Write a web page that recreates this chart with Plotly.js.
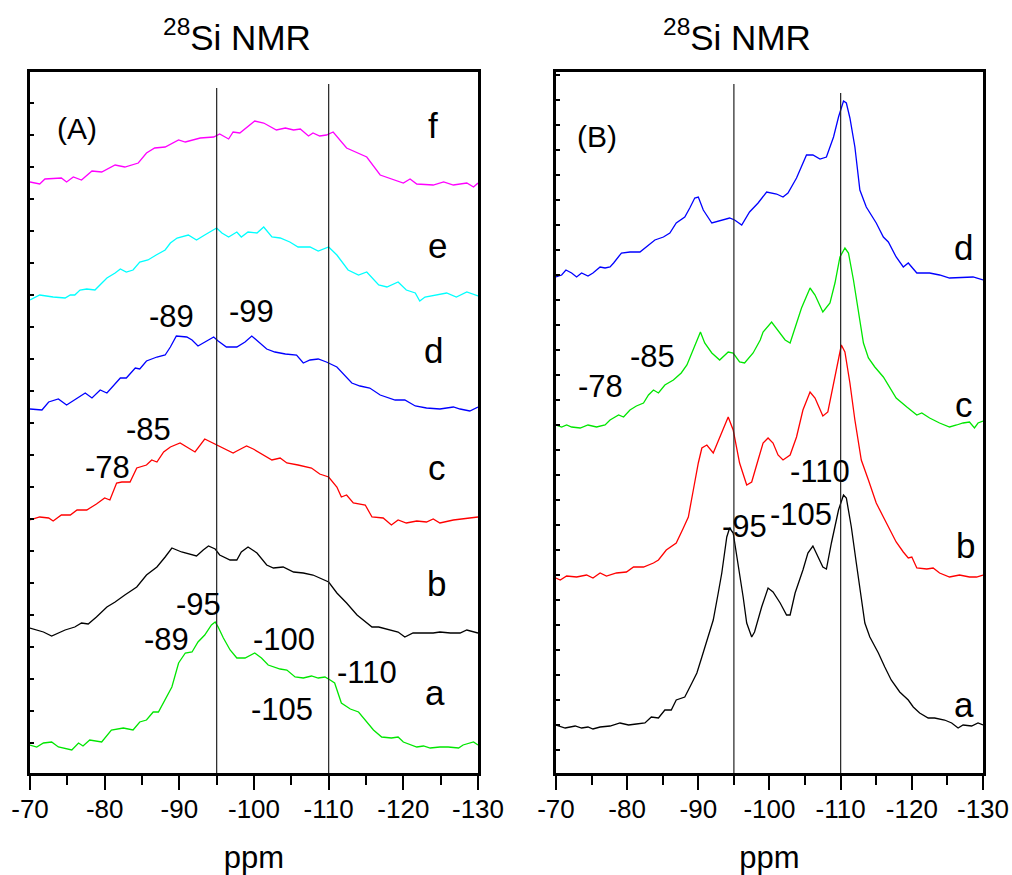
<!DOCTYPE html>
<html>
<head>
<meta charset="utf-8">
<script src="https://cdn.plot.ly/plotly-3.0.1.min.js"></script>
<style>
html,body{margin:0;padding:0;background:#fff;}
#chart{width:1012px;height:875px;}
</style>
</head>
<body>
<div id="chart"></div>
<script>
// ---------- tick labels ----------
const tickVals = [-70, -80, -90, -100, -110, -120, -130];
const tickLabels = ["-70", "-80", "-90", "-100", "-110", "-120", "-130"];
const minorTickVals = [-75, -85, -95, -105, -115, -125];
const refLinesPpm = [-95, -110];

// ---------- Panel A (stacked intensities, arbitrary units) ----------
const A_f_ppm = [-70,-71.3,-72.0,-74.2,-74.9,-75.8,-76.9,-78.3,-79.6,-81.4,-82.7,-84.5,-85.6,-86.7,-88.1,-89.9,-90.8,-92.8,-94.6,-95.4,-96.6,-97.2,-98.1,-100.1,-101.3,-103.0,-104.2,-105.3,-106.2,-107.3,-107.9,-108.8,-109.7,-110.6,-112.4,-113.3,-114.0,-115.1,-116.9,-118.7,-120.0,-120.9,-121.8,-124.0,-125.4,-126.7,-128.5,-129.4,-130];
const A_f_int = [591,589,594,595,591,596,593,602,601,608,606,610,620,625,626,633,631,635,636,639,634,641,640,652,650,643,645,643,644,637,640,637,638,641,625,622,620,616,598,593,590,594,589,588,591,588,590,586,590];

const A_e_ppm = [-70,-71.3,-73.1,-74.7,-75.4,-76.0,-76.7,-77.6,-78.7,-80.3,-81.4,-82.1,-82.9,-83.8,-84.7,-85.8,-86.9,-88.1,-88.8,-89.7,-91.2,-92.3,-93.4,-95.0,-95.7,-96.6,-97.7,-98.3,-99.2,-100.4,-101.3,-102.4,-103.5,-104.8,-105.9,-107.5,-108.6,-110.0,-111.1,-112.6,-114.0,-115.1,-116.7,-117.8,-119.3,-120.4,-121.6,-122.2,-122.9,-124.5,-125.8,-127.1,-128.5,-130];
const A_e_int = [473,478,476,475,478,478,483,484,483,495,500,504,501,503,511,513,518,523,530,535,538,533,538,545,540,536,541,536,541,540,546,536,535,531,526,526,522,526,518,503,498,501,488,486,491,483,480,472,476,478,480,476,481,477];

const A_d_ppm = [-70,-71.6,-72.5,-73.8,-74.9,-76.3,-77.4,-78.3,-79.4,-80.3,-81.2,-82.1,-82.9,-84.1,-84.7,-85.6,-87.0,-88.1,-88.8,-89.6,-91.0,-91.7,-92.5,-93.4,-94.6,-95.2,-96.3,-97.7,-98.8,-99.7,-100.6,-101.7,-102.8,-104.2,-105.7,-106.6,-107.5,-108.6,-109.7,-111.1,-113.1,-114.2,-115.5,-116.9,-118.9,-120.2,-121.6,-123.1,-124.9,-126.7,-127.6,-128.9,-130];
const A_d_int = [364,363,371,374,368,375,380,375,383,380,388,395,395,405,404,412,416,418,426,437,436,433,427,431,436,432,426,426,431,437,431,424,421,419,418,410,413,414,411,406,390,387,385,378,373,373,367,365,364,366,364,362,366];

const A_c_ppm = [-70,-71.3,-72.5,-73.1,-74.2,-75.4,-76.3,-77.6,-78.9,-80.0,-80.7,-81.6,-82.3,-83.4,-84.3,-85.6,-86.3,-87.0,-87.9,-88.8,-90.1,-91.0,-92.1,-93.4,-95.0,-96.3,-97.2,-97.7,-99.0,-99.9,-101.3,-102.4,-103.5,-104.4,-105.9,-107.7,-108.8,-110.0,-111.1,-111.7,-112.4,-113.3,-114.9,-115.8,-117.3,-118.4,-119.3,-120.4,-121.8,-123.1,-124.0,-124.9,-126.7,-128.0,-130];
const A_c_int = [253,256,255,252,258,258,263,263,269,275,273,290,291,291,305,308,313,311,321,326,330,326,321,334,328,323,320,322,327,324,318,313,315,310,308,305,299,296,286,276,278,270,268,256,255,248,253,250,252,251,254,250,253,254,256];

const A_b_ppm = [-70,-70.9,-71.8,-72.9,-73.8,-74.7,-76.0,-76.9,-77.8,-78.9,-80.3,-81.4,-82.7,-83.8,-84.3,-85.6,-87.0,-88.1,-89.0,-90.3,-91.7,-92.3,-93.2,-93.9,-94.8,-95.4,-96.8,-97.7,-98.3,-99.2,-100.4,-101.7,-102.6,-103.9,-105.3,-106.6,-107.9,-108.8,-110.0,-111.1,-112.4,-113.8,-115.1,-115.8,-116.7,-117.3,-118.4,-119.3,-120.2,-121.3,-122.7,-124.0,-124.9,-126.3,-127.6,-128.5,-130];
const A_b_int = [145,143,141,137,140,143,146,150,149,156,166,171,178,183,186,198,206,216,225,221,218,217,223,227,224,218,213,213,221,226,220,208,205,206,201,200,198,195,191,180,170,158,150,146,146,145,143,141,136,140,140,140,141,140,140,143,140];

const A_a_ppm = [-70,-70.9,-71.8,-72.9,-73.8,-75.6,-76.5,-77.1,-78.0,-78.9,-79.6,-80.9,-82.5,-83.8,-84.7,-85.6,-86.5,-87.2,-88.1,-89.0,-89.9,-90.8,-91.7,-92.5,-93.4,-94.3,-94.8,-95.2,-95.9,-96.8,-97.7,-98.8,-100.1,-101.0,-101.9,-103.5,-104.4,-105.5,-106.6,-107.7,-108.6,-109.5,-110.2,-110.8,-111.7,-112.9,-114.0,-114.9,-116.0,-117.1,-118.4,-119.3,-120.0,-121.8,-122.7,-123.6,-124.9,-126.0,-127.4,-128.0,-129.4,-130];
const A_a_int = [28,26,30,31,26,23,30,27,33,32,31,43,45,43,51,53,61,61,73,86,110,120,121,131,138,148,151,146,135,123,115,115,120,115,108,104,103,96,95,97,95,96,93,90,70,64,61,53,43,36,35,36,31,26,27,25,26,26,25,28,31,28];

// ---------- Panel B ----------
const B_d_ppm = [-70,-70.8,-71.4,-72.2,-72.9,-73.6,-74.5,-75.2,-76.2,-76.9,-77.6,-78.1,-79.2,-80.4,-81.8,-82.5,-83.9,-85.1,-86.0,-86.9,-88.1,-88.8,-89.5,-90.0,-90.7,-91.9,-93.3,-94.4,-95.1,-96.1,-97.2,-98.4,-99.6,-101.0,-101.9,-102.6,-103.8,-105.2,-106.1,-107.1,-108.0,-109.0,-109.7,-110.4,-110.8,-111.3,-112.0,-112.7,-113.6,-115.0,-116.0,-116.7,-117.8,-118.8,-119.5,-120.7,-122.5,-123.9,-125.3,-127.2,-128.6,-130];
const B_d_int = [496,498,503,500,496,500,497,500,506,505,506,510,520,521,521,525,533,536,540,550,556,565,575,576,563,550,553,555,553,548,561,570,581,579,576,580,595,618,618,614,616,636,656,672,670,655,626,583,566,550,536,531,516,506,510,500,500,498,495,496,496,493];

const B_c_ppm = [-70,-70.8,-71.5,-72.2,-73.4,-74.5,-75.7,-76.9,-77.6,-78.8,-79.5,-80.4,-81.3,-82.3,-83.0,-83.7,-84.4,-85.3,-86.5,-87.6,-88.4,-89.1,-89.8,-90.3,-90.9,-91.9,-93.0,-94.2,-94.9,-95.8,-96.5,-97.7,-98.7,-99.1,-100.3,-101.2,-102.2,-102.9,-103.6,-104.5,-105.7,-106.4,-107.5,-108.5,-109.2,-109.9,-110.6,-111.1,-111.8,-112.5,-113.2,-113.9,-114.8,-116.0,-116.9,-117.8,-119.3,-120.7,-121.4,-122.5,-123.9,-125.3,-126.3,-127.2,-128.1,-128.8,-129.3,-130];
const B_c_int = [348,346,348,346,345,348,346,348,353,358,356,363,367,370,378,383,380,388,393,400,408,420,433,441,430,420,413,421,420,411,410,420,433,441,451,443,433,430,446,465,485,478,461,470,490,516,525,520,493,460,430,415,406,396,385,375,366,358,360,355,350,346,348,350,351,345,350,352];

const B_b_ppm = [-70,-70.6,-71.5,-72.9,-74.3,-75.2,-76.2,-77.1,-78.5,-79.9,-80.9,-82.3,-83.7,-84.4,-85.5,-86.9,-87.9,-88.6,-89.3,-90.0,-90.5,-91.2,-92.1,-93.3,-94.2,-94.9,-95.8,-96.8,-97.5,-98.4,-99.1,-99.8,-100.5,-101.2,-101.9,-102.9,-103.8,-104.7,-105.7,-106.4,-107.5,-108.2,-109.0,-109.7,-110.1,-110.6,-111.3,-112.0,-112.9,-113.9,-115.0,-116.0,-116.9,-117.8,-118.8,-119.5,-120.0,-120.7,-122.1,-123.0,-123.9,-125.3,-126.7,-128.1,-129.1,-130];
const B_b_int = [195,193,197,196,198,195,200,197,200,201,206,206,210,213,223,230,245,256,283,310,325,328,320,340,356,343,310,288,291,313,330,335,330,318,313,318,336,363,381,375,357,361,390,416,428,421,390,353,313,293,270,256,243,231,221,215,216,205,204,205,200,196,198,196,196,198];

const B_a_ppm = [-70,-71.3,-72.7,-73.6,-74.5,-75.2,-76.2,-77.6,-79.0,-80.2,-81.3,-82.5,-83.4,-84.4,-85.3,-86.2,-86.9,-88.1,-89.1,-89.8,-90.5,-91.2,-92.1,-92.8,-93.3,-94.0,-94.4,-94.9,-95.6,-96.3,-96.8,-97.5,-97.9,-98.9,-99.8,-100.5,-101.5,-102.4,-102.9,-103.6,-104.7,-105.4,-106.1,-106.8,-107.5,-108.0,-108.7,-109.7,-110.4,-110.8,-111.5,-112.2,-112.9,-113.4,-114.1,-115.3,-116.2,-117.1,-118.3,-119.5,-120.2,-121.1,-122.3,-123.2,-124.6,-125.6,-126.5,-127.2,-128.4,-129.3,-130];
const B_a_int = [48,45,47,45,46,44,46,47,50,48,49,50,56,55,63,63,73,76,90,100,116,133,153,180,200,236,245,240,210,176,150,136,141,166,185,181,170,158,158,180,203,220,227,216,206,204,230,263,278,275,246,210,176,150,136,120,106,93,81,73,66,60,55,55,53,50,45,48,47,50,48];

// ---------- text labels ----------
const seriesLetters = ["a", "b", "c", "d", "e", "f"];
const A_peakLabels = ["-89", "-99", "-85", "-78", "-95", "-89", "-100", "-110", "-105"];
const B_peakLabels = ["-85", "-78", "-110", "-105", "-95"];
const panelTags = ["(A)", "(B)"];
const titleText = "<sup>28</sup>Si NMR";
const xTitle = "ppm";

// ---------- styles & positions (not data) ----------
const FONT = "Liberation Sans, Arial, Helvetica, sans-serif";
const colA = {a: "#00e600", b: "#000000", c: "#ff0000", d: "#0000ff", e: "#00ffff", f: "#ff00ff"};
const colB = {a: "#000000", b: "#ff0000", c: "#00e600", d: "#0000ff"};

function tr(x, y, color, xa, ya) {
  return {x: x, y: y, type: "scatter", mode: "lines", xaxis: xa, yaxis: ya,
    line: {color: color, width: 1.3}, hoverinfo: "skip", showlegend: false};
}

const data = [
  tr(A_f_ppm, A_f_int, colA.f, "x", "y"),
  tr(A_e_ppm, A_e_int, colA.e, "x", "y"),
  tr(A_d_ppm, A_d_int, colA.d, "x", "y"),
  tr(A_c_ppm, A_c_int, colA.c, "x", "y"),
  tr(A_b_ppm, A_b_int, colA.b, "x", "y"),
  tr(A_a_ppm, A_a_int, colA.a, "x", "y"),
  tr(B_d_ppm, B_d_int, colB.d, "x2", "y2"),
  tr(B_c_ppm, B_c_int, colB.c, "x2", "y2"),
  tr(B_b_ppm, B_b_int, colB.b, "x2", "y2"),
  tr(B_a_ppm, B_a_int, colB.a, "x2", "y2")
];

function xax(domain, anchor) {
  return {
    domain: domain, anchor: anchor, range: [-70, -130],
    tickmode: "array", tickvals: tickVals, ticktext: tickLabels,
    ticks: "outside", ticklen: 14, tickwidth: 2, tickcolor: "#000",
    ticklabelstandoff: -3,
    minor: {tickmode: "array", tickvals: minorTickVals, ticks: "outside", ticklen: 9, tickwidth: 2, tickcolor: "#000", showgrid: false},
    showline: true, linewidth: 3, linecolor: "#000", mirror: true,
    showgrid: false, zeroline: false,
    tickfont: {family: FONT, size: 26, color: "#000"},
    title: {text: xTitle, font: {family: FONT, size: 31, color: "#000"}, standoff: 32}
  };
}
function yax(anchor, tick0, dtick) {
  return {
    domain: [0, 1], anchor: anchor, range: [0, 701],
    tickmode: "linear", tick0: tick0, dtick: dtick,
    ticks: "inside", ticklen: 4, tickwidth: 2, tickcolor: "#000",
    showticklabels: false,
    showline: true, linewidth: 3, linecolor: "#000", mirror: true,
    showgrid: false, zeroline: false
  };
}

// annotation positions (ppm, intensity) – layout only
const A_letterPos = [[-124.2, 81], [-124.5, 190], [-124.5, 306], [-124.0, 423], [-124.6, 528], [-124.0, 648]];
const B_letterPos = [[-127.3, 69], [-127.6, 228], [-127.4, 369], [-127.2, 526]];
const A_peakPos = [[-88.9, 457], [-99.7, 462], [-85.9, 344], [-80.4, 306], [-92.5, 169], [-88.3, 134], [-104.0, 134], [-115.1, 101], [-103.7, 64]];
const B_peakPos = [[-83.5, 417], [-76.2, 387], [-107.1, 302], [-104.4, 259], [-96.5, 247]];

const ann = [];
function addText(text, pos, xr, yr, size) {
  ann.push({text: text, x: pos[0], y: pos[1], xref: xr, yref: yr, showarrow: false,
    xanchor: "center", yanchor: "middle", font: {family: FONT, size: size, color: "#000"}});
}
seriesLetters.forEach((l, i) => addText(l, A_letterPos[i], "x", "y", 35));
seriesLetters.slice(0, 4).forEach((l, i) => addText(l, B_letterPos[i], "x2", "y2", 35));
A_peakLabels.forEach((l, i) => addText(l, A_peakPos[i], "x", "y", 31));
B_peakLabels.forEach((l, i) => addText(l, B_peakPos[i], "x2", "y2", 31));
addText(panelTags[0], [-76.3, 645], "x", "y", 30);
addText(panelTags[1], [-75.8, 637], "x2", "y2", 30);
addText(titleText, [0.2172, 1.053], "paper", "paper", 35);
addText(titleText, [0.7419, 1.053], "paper", "paper", 35);

const shapes = [];
const A_refTop = [685, 689];
const B_refTop = [689, 680];
refLinesPpm.forEach((p, i) => {
  shapes.push({type: "line", xref: "x", yref: "y", x0: p, x1: p, y0: 0, y1: A_refTop[i], line: {color: "#222", width: 1.2}});
  shapes.push({type: "line", xref: "x2", yref: "y2", x0: p, x1: p, y0: 0, y1: B_refTop[i], line: {color: "#222", width: 1.2}});
});

const layout = {
  width: 1012, height: 875,
  margin: {l: 30, r: 29, t: 72, b: 102},
  paper_bgcolor: "#fff", plot_bgcolor: "#fff",
  font: {family: FONT, color: "#000"},
  showlegend: false,
  xaxis: xax([0, 0.4701], "y"),
  yaxis: yax("x", 30, 32),
  xaxis2: xax([0.5519, 1], "y2"),
  yaxis2: yax("x2", 23, 25),
  annotations: ann,
  shapes: shapes
};

Plotly.newPlot("chart", data, layout, {displayModeBar: false, staticPlot: true});
</script>
</body>
</html>
